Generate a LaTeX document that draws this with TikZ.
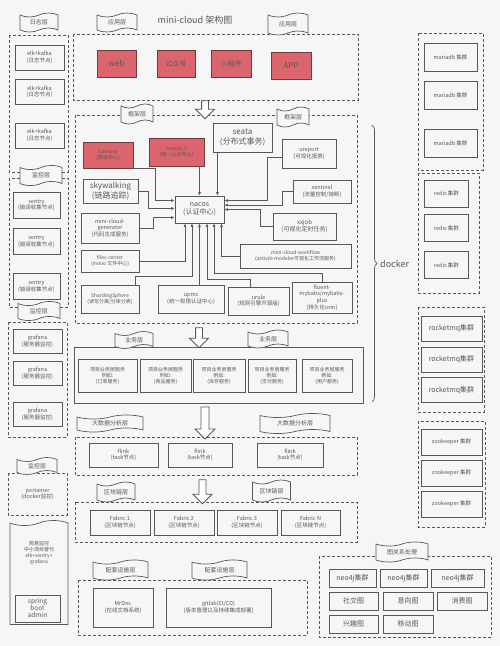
\documentclass[tikz,border=0pt]{standalone}
\usepackage{fontspec}
\setmainfont{Noto Sans CJK SC}
\usetikzlibrary{shapes.symbols,shapes.arrows,arrows.meta,decorations.pathreplacing,calc}

\definecolor{bg}{RGB}{246,246,246}
\definecolor{ink}{RGB}{88,88,88}
\definecolor{redfill}{RGB}{220,100,108}
\definecolor{redline}{RGB}{110,60,60}

\begin{document}
\begin{tikzpicture}[
    x=1pt, y=-1pt,
    every node/.style={font=\fontsize{5.5}{6.6}\selectfont, text=ink, align=center, inner sep=1pt},
    wh/.style 2 args={minimum width=#1pt, minimum height=#2pt},
    box/.style={rectangle, draw=ink, line width=0.8pt},
    redbox/.style={box, fill=redfill, draw=redline},
    frame/.style={draw=ink, line width=0.8pt, dash pattern=on 3pt off 2pt},
    flag/.style={tape, draw=ink, fill=bg, line width=0.7pt, tape bend height=4pt, font=\fontsize{6}{7}\selectfont},
    hollow/.style={single arrow, draw=ink, fill=white, line width=0.8pt, rotate=-90, inner sep=3pt, single arrow head extend=6pt},
    arr/.style={draw=ink, line width=0.6pt, -{Latex[length=3.5pt,width=3pt]}},
    f5/.style={font=\fontsize{5}{6}\selectfont},
    f7/.style={font=\fontsize{7}{8.4}\selectfont},
    f8/.style={font=\fontsize{8}{9.6}\selectfont}
]
\fill[bg] (0,0) rectangle (500,646);
\useasboundingbox (0,0) rectangle (500,646);

% -------------------------
% Frames (dashed containers)
% -------------------------
    \draw[frame] (9,35) rectangle (68,172);
    \draw[frame] (9,178) rectangle (68,307);
    \draw[frame] (8,322) rectangle (67,437);
    \draw[frame] (8,473) rectangle (67,515);
    \draw[frame] (73,34) rectangle (358,100);
    \draw[frame] (75,115) rectangle (357,323);
    \draw[box] (74,347) rectangle (363,403);
    \draw[frame] (75,437) rectangle (357,475);
    \draw[frame] (75,502) rectangle (357,542);
    \draw[frame] (78,580) rectangle (307,635);
    \draw[frame] (418,33) rectangle (483,170);
    \draw[frame] (418,173) rectangle (479,293);
    \draw[frame] (418,307) rectangle (484,412);
    \draw[frame] (418,421) rectangle (485,527);
    \draw[frame] (319,556) rectangle (491,637);

% -------------------------
% Left column (log / monitor)
% -------------------------
    \node[flag, wh={38}{19}] (logflag) at (39,22.5) {日志层};
    \node[box, wh={49}{25}] (elk1) at (39.5,57.5) {elk+kafka\\(日志节点)};
    \node[box, wh={49}{25}] (elk2) at (39.5,92) {elk+kafka\\(日志节点)};
    \node[box, wh={49}{25}] (elk3) at (39.5,135.5) {elk+kafka\\(日志节点)};

    \node[flag, wh={42}{20}] (monflag1) at (41,175.5) {监控层};
    \node[box, wh={47}{26}] (sentry1) at (36.5,205) {sentry\\(错误收集节点)};
    \node[box, wh={47}{26}] (sentry2) at (36.5,241.5) {sentry\\(错误收集节点)};
    \node[box, wh={47}{26}] (sentry3) at (36.5,286.5) {sentry\\(错误收集节点)};

    \node[flag, wh={42}{19}] (monflag2) at (39,311) {监控层};
    \node[box, wh={49}{24}] (grafana1) at (37.5,341.5) {grafana\\(服务器监控)};
    \node[box, wh={49}{24}] (grafana2) at (37.5,373.5) {grafana\\(服务器监控)};
    \node[box, wh={49}{24}] (grafana3) at (37.5,414.5) {grafana\\(服务器监控)};

    \node[flag, wh={40}{17}] (monflag3) at (37,466) {监控层};
    \node (portainer) at (37.5,494) {portainer\\(docker监控)};

    \node[tape, tape bend bottom=none, tape bend height=5pt, draw=ink, line width=0.7pt, wh={58}{104}] (simple) at (39,575) {};
    \node[f5] (simpletxt) at (39,553) {简易监控\\中小项目替代\\elk+sentry+\\grafana};
    \node[box, f7, wh={45}{27}, inner sep=0.5pt, font=\fontsize{6.5}{7}\selectfont] (sba) at (37.5,608.5) {spring\\boot\\admin};

% -------------------------
% Application layer
% -------------------------
    \node[f8, font=\fontsize{9}{10}\selectfont] (title) at (195,20) {mini-cloud 架构图};
    \node[flag, wh={40}{19}] (appflag1) at (117,22.5) {应用层};
    \node[flag, wh={40}{22}] (appflag2) at (288,24) {应用层};
    \node[redbox, f8, wh={39}{27}] (web) at (116.5,63.5) {web};
    \node[redbox, f7, wh={38}{27}] (gzh) at (176,63.5) {公众号};
    \node[redbox, f7, wh={40}{27}] (mini) at (231,63.5) {小程序};
    \node[redbox, f8, wh={40}{27}] (app) at (291,65.5) {APP};

    \node[hollow, wh={17}{18}] (down1) at (205,108) {};

% -------------------------
% Framework layer
% -------------------------
    \node[flag, wh={32}{20}] (fwflag1) at (137,114) {框架层};
    \node[flag, wh={32}{20}] (fwflag2) at (293,117) {框架层};

    \node[redbox, f5, wh={50}{26}] (gateway) at (108,155) {Gateway\\(网关中心)};
    \node[redbox, f5, wh={55}{28}] (oauth) at (176.5,152) {oauth2.0\\(统一认证中心)};
    \node[box, f8, wh={59}{29}] (seata) at (242.5,137.5) {seata\\(分布式事务)};
    \node[box, wh={54}{29}] (ureport) at (309,153.5) {ureport\\(可视化报表)};
    \node[box, f8, wh={55}{24}] (sky) at (110.5,191) {skywalking\\(链路追踪)};
    \node[box, wh={58}{23}] (sentinel) at (322,191.5) {sentinel\\(流量控制/熔断)};
    \node[box, f7, wh={49}{27}] (nacos) at (199.5,209.5) {nacos\\(认证中心)};
    \node[box, wh={58}{30}] (gen) at (110,228) {mini-cloud-\\generator\\(代码生成服务)};
    \node[box, f7, font=\fontsize{6}{7.2}\selectfont, wh={63}{27}] (xxjob) at (304.5,226.5) {xxjob\\(可视化定时任务)};
    \node[box, f5, wh={58}{22}] (files) at (110,261) {files-center\\(minio 文件中心)};
    \node[box, f5, wh={111}{24}] (workflow) at (295.5,256) {mini-cloud-workflow\\(activiti-modeler可视化工作流服务)};
    \node[box, f5, wh={58}{28}] (shard) at (110,299) {ShardingSphere\\(读写分离/分库分表)};
    \node[box, wh={66}{28}] (upms) at (191,299) {upms\\(统一权限认证中心)};
    \node[box, wh={61}{28}] (urule) at (258.5,301) {urule\\(规则引擎开源版)};
    \node[box, wh={60}{31}] (fluent) at (322,297.5) {fluent-\\mybatis/mybatis-\\plus\\(持久化orm)};

    \coordinate (inA) at ($(nacos.south)+(-14.5,0)$);
    \coordinate (inB) at ($(nacos.south)+(-7.5,0)$);
    \coordinate (inD) at ($(nacos.south)+(7.5,0)$);
    \coordinate (inE) at ($(nacos.south)+(14.5,0)$);
    \coordinate (inF) at ($(nacos.south)+(22,0)$);
    \coordinate (inS) at ($(nacos.north east)+(-7,0)$);

    \draw[arr] (gateway.south east) -- ++(22,0) |- ([yshift=9pt]nacos.west);
    \draw[arr] (oauth.south -| nacos.north) -- (nacos.north);
    \draw[arr] (seata.south -| inS) -- (inS);
    \draw[arr] (sky.east) -- ++(10,0) |- ([yshift=1pt]nacos.west);
    \draw[arr] (gen.east) -- ++(14,0) |- ([yshift=-8pt]nacos.west);
    \draw[arr] (files.east) -| (inA);
    \draw[arr] ([xshift=-4pt]shard.north east) -- ++(0,-8) -| (inB);
    \draw[arr] (upms.north -| nacos.south) -- (nacos.south);
    \draw[arr] ([xshift=-8pt]urule.north) -- ++(0,-7) -| (inD);
    \draw[arr] (fluent.north) -- ++(0,-8) -| (inE);
    \draw[arr] (workflow.west) -| (inF);
    \draw[arr] ([yshift=-4pt]ureport.west) -- ++(-14,0) |- ([yshift=9pt]nacos.east);
    \draw[arr] (sentinel.west) -- ++(-10,0) |- ([yshift=4.5pt]nacos.east);
    \draw[arr] (xxjob.west) -- ++(-12,0) |- (nacos.east);

% -------------------------
% Business layer
% -------------------------
    \node[hollow, wh={18}{20}] (down2) at (199,336) {};
    \node[flag, wh={38}{17}] (bizflag1) at (134,340) {业务层};
    \node[flag, wh={40}{18}] (bizflag2) at (268,339) {业务层};
    \node[box, f5, wh={59}{33}] (biz1) at (107.5,375.5) {项目业务层服务\\例如:\\(订单服务)};
    \node[box, f5, wh={51}{33}] (biz2) at (165.5,375.5) {项目业务层服务\\例如:\\(商品服务)};
    \node[box, f5, wh={52}{33}] (biz3) at (219,375.5) {项目业务层服务\\例如:\\(库存服务)};
    \node[box, f5, wh={48}{33}] (biz4) at (272,375.5) {项目业务层服务\\例如:\\(支付服务)};
    \node[box, f5, wh={50}{33}] (biz5) at (327,375.5) {项目业务层服务\\例如:\\(用户服务)};

% -------------------------
% Big data layer
% -------------------------
    \node[hollow, wh={20}{32}, inner sep=3.5pt] (down3) at (205,421) {};
    \node[flag, wh={66}{17}] (bdflag1) at (110,423.5) {大数据分析层};
    \node[flag, wh={70}{20}] (bdflag2) at (295,423.5) {大数据分析层};
    \node[box, wh={69}{24}] (flink1) at (123.5,455) {flink\\(task节点)};
    \node[box, wh={64}{24}] (flink2) at (200,455) {flink\\(task节点)};
    \node[box, wh={66}{24}] (flink3) at (290,455) {flink\\(task节点)};

% -------------------------
% Blockchain layer
% -------------------------
    \node[hollow, wh={19}{24}] (down4) at (202.5,490) {};
    \node[flag, wh={38}{20}] (bcflag1) at (116,492) {区块链层};
    \node[flag, wh={38}{22}] (bcflag2) at (271.5,491) {区块链层};
    \node[box, wh={60}{25}] (fabric1) at (120,522.5) {Fabric 1\\(区块链节点)};
    \node[box, wh={60}{25}] (fabric2) at (184,522.5) {Fabric 2\\(区块链节点)};
    \node[box, wh={60}{25}] (fabric3) at (247,522.5) {Fabric 3\\(区块链节点)};
    \node[box, wh={59}{25}] (fabricN) at (310.5,522.5) {Fabric N\\(区块链节点)};

% -------------------------
% Supporting layer
% -------------------------
    \node[flag, wh={55}{20}] (supflag1) at (120.5,570) {配套设施层};
    \node[flag, wh={55}{20}] (supflag2) at (219.5,570) {配套设施层};
    \node[box, wh={60}{39}] (mrdoc) at (123,607.5) {MrDoc\\(在线文档系统)};
    \node[box, wh={105}{39}] (gitlab) at (218.5,607.5) {gitlab(CI/CD)\\(版本管理以及持续集成部署)};

% -------------------------
% Docker column
% -------------------------
    \node[box, wh={53}{28}] (maria1) at (450.5,57) {mariadb 集群};
    \node[box, wh={53}{28}] (maria2) at (450.5,95) {mariadb 集群};
    \node[box, wh={53}{28}] (maria3) at (450.5,143) {mariadb 集群};
    \node[box, wh={44}{27}] (redis1) at (446.5,193.5) {redis 集群};
    \node[box, wh={44}{27}] (redis2) at (446.5,228) {redis 集群};
    \node[box, wh={44}{27}] (redis3) at (446.5,265) {redis 集群};
    \node[box, f7, wh={61}{25}] (rmq1) at (451.5,328.5) {rocketmq集群};
    \node[box, f7, wh={61}{25}] (rmq2) at (451.5,359.5) {rocketmq集群};
    \node[box, f7, wh={61}{25}] (rmq3) at (451.5,390) {rocketmq集群};
    \node[box, wh={61}{26}] (zk1) at (451.5,442) {zookeeper 集群};
    \node[box, wh={61}{26}] (zk2) at (451.5,473) {zookeeper 集群};
    \node[box, wh={61}{26}] (zk3) at (451.5,504) {zookeeper 集群};

    \draw[decorate, decoration={brace, amplitude=5pt}, ink, line width=0.7pt] (372,125) -- (372,402);
    \node[f8, font=\fontsize{9}{10}\selectfont, anchor=west] (docker) at (379,264) {docker};

% -------------------------
% Graph processing
% -------------------------
    \node[flag, wh={52}{20}] (graphflag) at (402,552) {图关系处理};
    \node[box, f7, wh={47}{18}] (neo1) at (352.5,578) {neo4j集群};
    \node[box, f7, wh={47}{18}] (neo2) at (403.5,578) {neo4j集群};
    \node[box, f7, wh={53}{18}] (neo3) at (457.5,578) {neo4j集群};
    \node[box, f7, wh={49}{18}] (social) at (353.5,601) {社交图};
    \node[box, f7, wh={50}{18}] (intent) at (408,601) {意向图};
    \node[box, f7, wh={50}{18}] (spend) at (462,601) {消费图};
    \node[box, f7, wh={49}{18}] (interest) at (353.5,624) {兴趣图};
    \node[box, f7, wh={50}{18}] (move) at (408,624) {移动图};
\end{tikzpicture}
\end{document}
